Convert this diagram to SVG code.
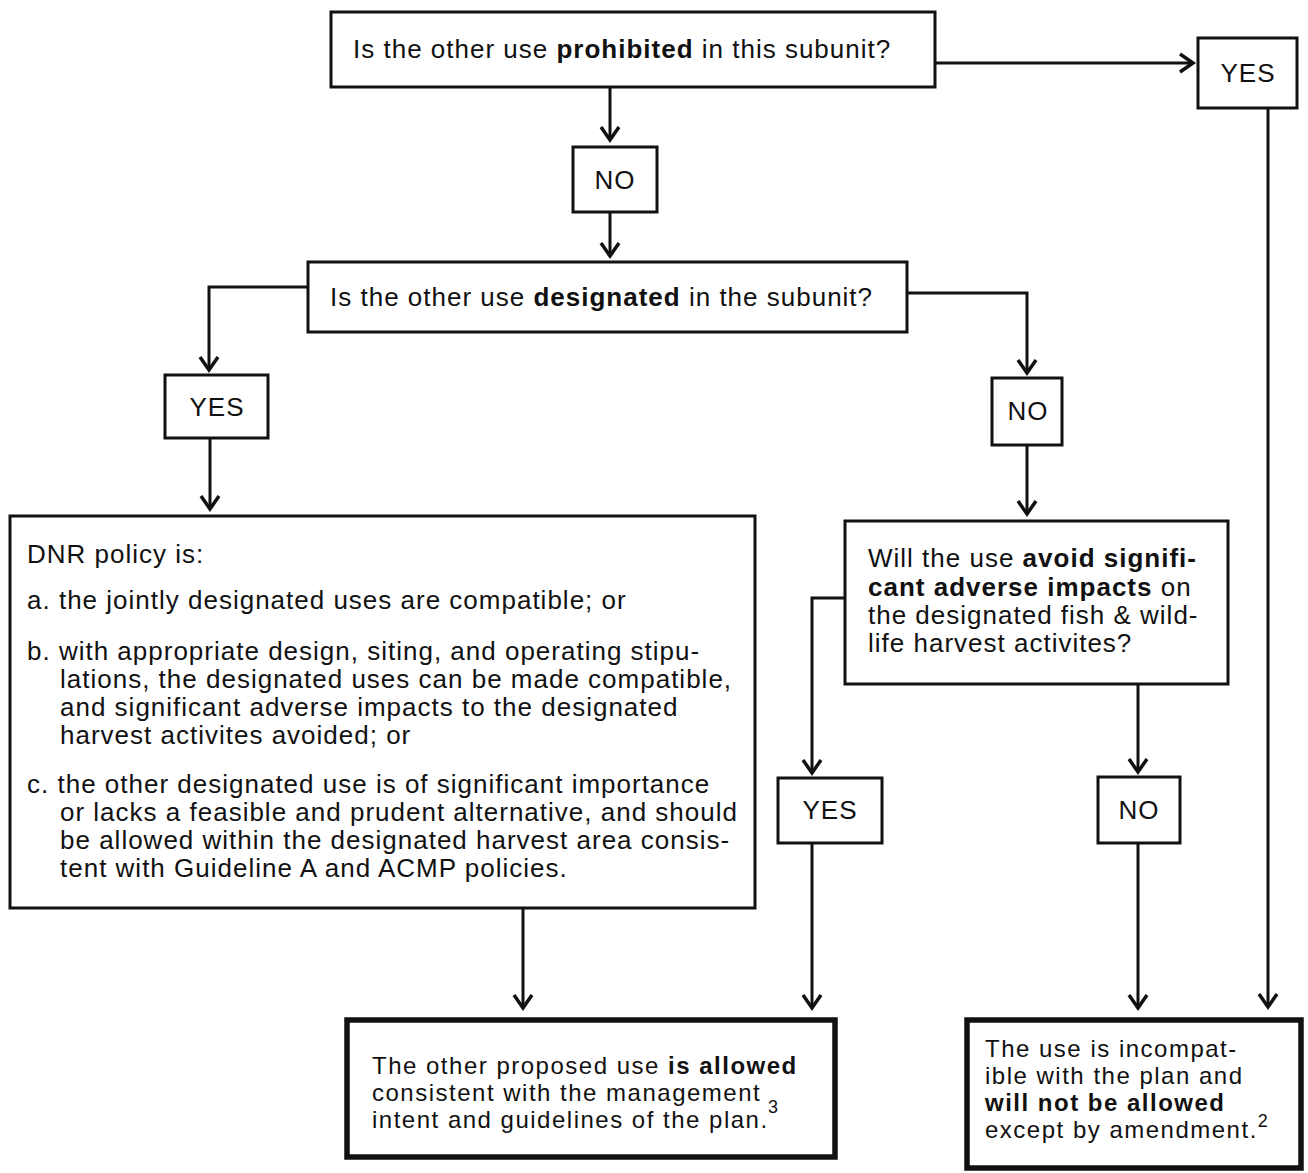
<svg xmlns="http://www.w3.org/2000/svg" width="1308" height="1173" viewBox="0 0 1308 1173">
<style>
.box{fill:#fff;stroke:#111;stroke-width:3}
.thick{fill:#fff;stroke:#111;stroke-width:5.5}
.t{font-family:"Liberation Sans",Arial,Helvetica,sans-serif;font-size:26px;letter-spacing:1px;fill:#111}
.s{font-family:"Liberation Sans",Arial,Helvetica,sans-serif;font-size:24px;letter-spacing:1.5px;fill:#111}
.c{text-anchor:middle}
.b{font-weight:bold}
.sup{font-family:"Liberation Sans",Arial,Helvetica,sans-serif;font-size:18px;letter-spacing:0;fill:#111}
.ln{fill:none;stroke:#111;stroke-width:3;marker-end:url(#ah)}
</style>
<defs>
<marker id="ah" markerUnits="userSpaceOnUse" viewBox="-16 -12 18 24" refX="0" refY="0" markerWidth="18" markerHeight="24" orient="auto" overflow="visible">
<path d="M-13,-9 L0,0 L-13,9" fill="none" stroke="#111" stroke-width="3.5" stroke-linejoin="miter"/>
</marker>
</defs>
<rect width="1308" height="1173" fill="#fff"/>
<g id="connectors">
<path class="ln" d="M935,63 H1193"/>
<path class="ln" d="M1268,108 V1007"/>
<path class="ln" d="M610,87 V140"/>
<path class="ln" d="M610,212 V256"/>
<path class="ln" d="M308,287 H209 V370"/>
<path class="ln" d="M210,438 V509"/>
<path class="ln" d="M907,293 H1027 V373"/>
<path class="ln" d="M1027,445 V514"/>
<path class="ln" d="M845,598 H812 V773"/>
<path class="ln" d="M1138,684 V772"/>
<path class="ln" d="M812,843 V1008"/>
<path class="ln" d="M523,908 V1008"/>
<path class="ln" d="M1138,843 V1008"/>
</g>
<g id="q1">
<rect class="box" x="331" y="12" width="604" height="75"/>
<text class="t" x="353" y="58">Is the other use <tspan class="b">prohibited</tspan> in this subunit?</text>
</g>
<g id="yes1">
<rect class="box" x="1198" y="38" width="99" height="70"/>
<text class="t c" x="1248" y="82">YES</text>
</g>
<g id="no1">
<rect class="box" x="573" y="147" width="84" height="65"/>
<text class="t c" x="615" y="189">NO</text>
</g>
<g id="q2">
<rect class="box" x="308" y="262" width="599" height="70"/>
<text class="t" x="330" y="306">Is the other use <tspan class="b">designated</tspan> in the subunit?</text>
</g>
<g id="yes2">
<rect class="box" x="165" y="375" width="103" height="63"/>
<text class="t c" x="217" y="416">YES</text>
</g>
<g id="no2">
<rect class="box" x="992" y="378" width="70" height="67"/>
<text class="t c" x="1028" y="420">NO</text>
</g>
<g id="policy">
<rect class="box" x="10" y="516" width="745" height="392"/>
<text class="t" x="27" y="563">DNR policy is:</text>
<text class="t" x="27" y="609">a. the jointly designated uses are compatible; or</text>
<text class="t" x="27" y="660">b. with appropriate design, siting, and operating stipu-</text>
<text class="t" x="60" y="688">lations, the designated uses can be made compatible,</text>
<text class="t" x="60" y="716">and significant adverse impacts to the designated</text>
<text class="t" x="60" y="744">harvest activites avoided; or</text>
<text class="t" x="27" y="793">c. the other designated use is of significant importance</text>
<text class="t" x="60" y="821">or lacks a feasible and prudent alternative, and should</text>
<text class="t" x="60" y="849">be allowed within the designated harvest area consis-</text>
<text class="t" x="60" y="877">tent with Guideline A and ACMP policies.</text>
</g>
<g id="q3">
<rect class="box" x="845" y="521" width="383" height="163"/>
<text class="t" x="868" y="567">Will the use <tspan class="b">avoid signifi-</tspan></text>
<text class="t" x="868" y="596"><tspan class="b">cant adverse impacts</tspan> on</text>
<text class="t" x="868" y="624">the designated fish &amp; wild-</text>
<text class="t" x="868" y="652">life harvest activites?</text>
</g>
<g id="yes3">
<rect class="box" x="778" y="778" width="104" height="65"/>
<text class="t c" x="830" y="819">YES</text>
</g>
<g id="no3">
<rect class="box" x="1098" y="777" width="82" height="66"/>
<text class="t c" x="1139" y="819">NO</text>
</g>
<g id="allowed">
<rect class="thick" x="347" y="1020" width="488" height="137"/>
<text class="s" x="372" y="1074">The other proposed use <tspan class="b">is allowed</tspan></text>
<text class="s" x="372" y="1101">consistent with the management</text>
<text class="s" x="372" y="1128">intent and guidelines of the plan.</text>
<text class="sup" x="768" y="1113">3</text>
</g>
<g id="notallowed">
<rect class="thick" x="967" y="1020" width="334" height="148"/>
<text class="s" x="985" y="1057">The use is incompat-</text>
<text class="s" x="985" y="1084">ible with the plan and</text>
<text class="s b" x="985" y="1111">will not be allowed</text>
<text class="s" x="985" y="1138">except by amendment.<tspan class="sup" dy="-11">2</tspan></text>
</g>
</svg>
